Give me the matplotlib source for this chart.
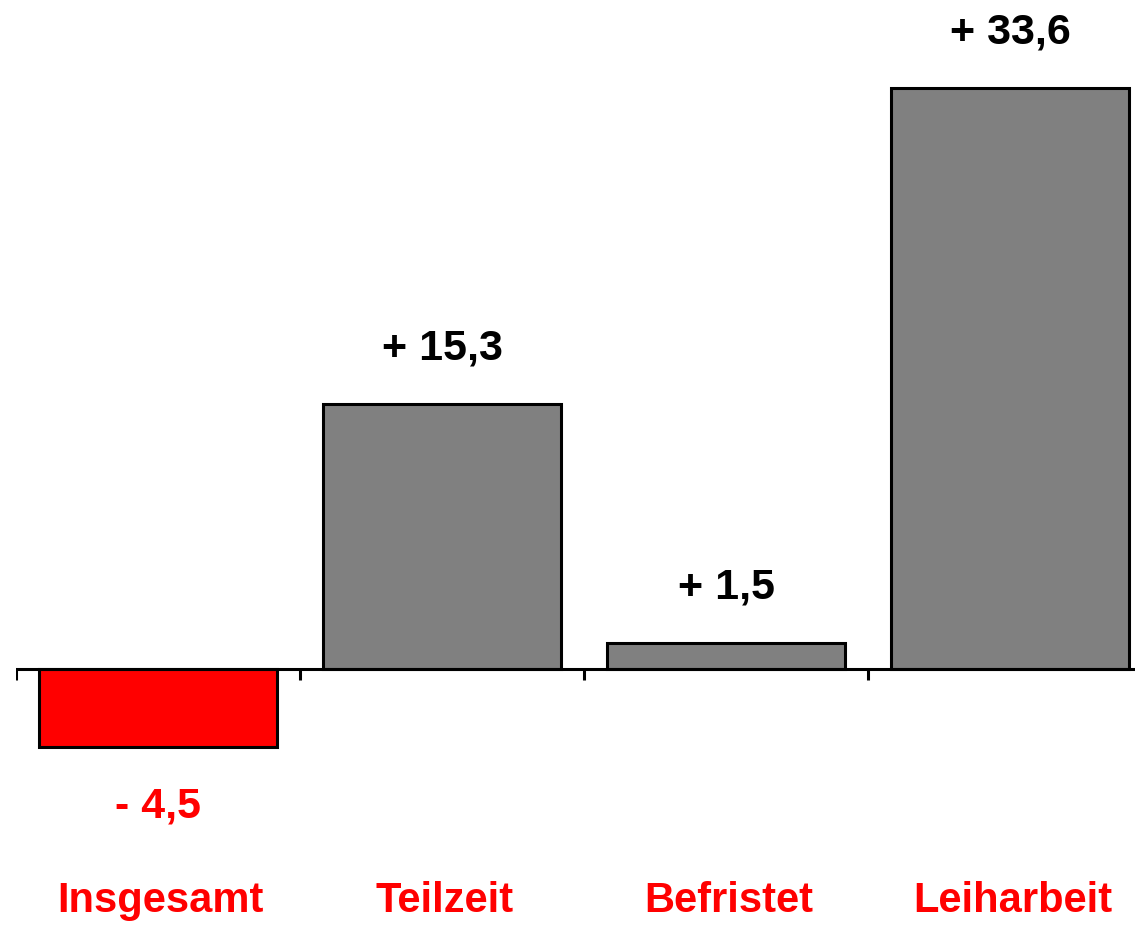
import numpy as np
import matplotlib.pyplot as plt

# data
categories = ["Insgesamt", "Teilzeit", "Befristet", "Leiharbeit"]
values = [-4.5, 15.3, 1.5, 33.6]
value_labels = ["- 4,5", "+ 15,3", "+ 1,5", "+ 33,6"]
bar_colors = ["#ff0000", "#808080", "#808080", "#808080"]
value_colors = ["#ff0000", "black", "black", "black"]

plt.rcParams['font.family'] = ['Liberation Sans', 'DejaVu Sans']

fig = plt.figure(figsize=(11.35, 9.25), dpi=100)
# axes spans from x=16px, one category = 284px
ax = fig.add_axes([16 / 1135, 0, 1136 / 1135, 1])

x = np.arange(len(categories))
ax.bar(x, values, width=0.835, color=bar_colors, edgecolor="black", linewidth=2.2, zorder=2)

# zero line and category separator ticks
ax.axhline(0, color="black", linewidth=2.2, zorder=3)
ax.vlines(np.arange(len(categories)) - 0.5, -0.65, 0, color="black", linewidth=2.2, zorder=3)

# value labels
for i, v in enumerate(values):
    off = 40 if v > 0 else -43
    ax.annotate(value_labels[i], (i, v), xytext=(0, off), textcoords="offset points",
                ha="center", va="center", fontsize=31, fontweight="bold",
                color=value_colors[i])

# category labels
for i, c in enumerate(categories):
    ax.text(i + 0.01, -13.4, c, ha="center", va="center", fontsize=30, fontweight="bold",
            color="#ff0000")

ax.set_xlim(-0.5, 3.5)
ax.set_ylim(-14.81, 38.69)
ax.axis("off")

fig.savefig("out.png", dpi=100)
